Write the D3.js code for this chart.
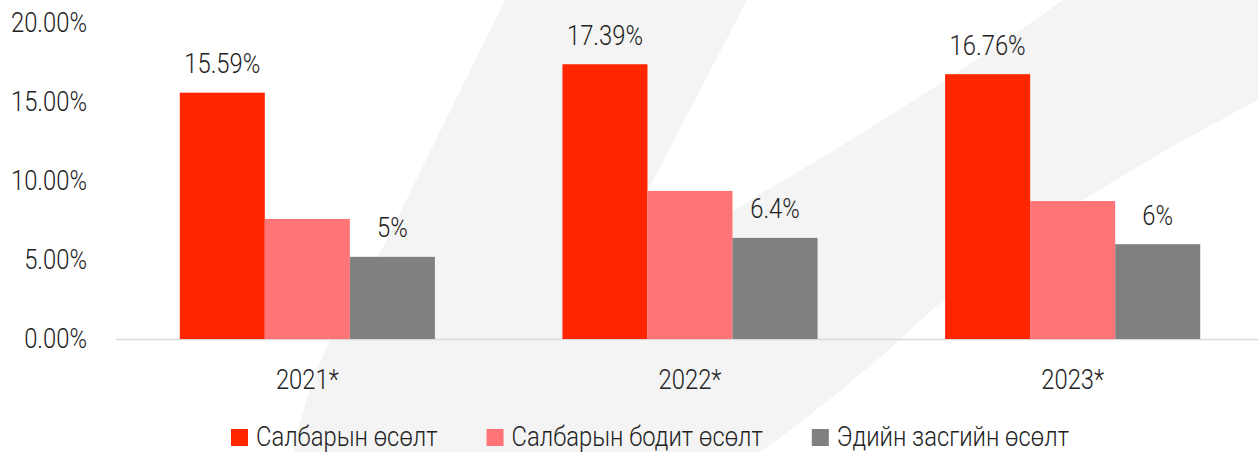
<!DOCTYPE html>
<html>
<head>
<meta charset="utf-8">
<script src="https://cdn.jsdelivr.net/npm/d3@7"></script>
<style>
  body { margin: 0; background: #fff; }
  svg text { font-family: Roboto, "Liberation Sans", sans-serif; font-weight: 300; fill: #222; }
</style>
</head>
<body>
<svg width="1258" height="452"></svg>
<script>
const categories = ['2021*', '2022*', '2023*'];
const seriesNames = ['Салбарын өсөлт', 'Салбарын бодит өсөлт', 'Эдийн засгийн өсөлт'];
const seriesColors = ['#ff2600', '#ff7577', '#808080'];
const sectorGrowth = [15.59, 17.39, 16.76];
const sectorRealGrowth = [7.6, 9.37, 8.73];
const economyGrowth = [5.2, 6.4, 6.0];
const sectorLabels = ['15.59%', '17.39%', '16.76%'];
const economyLabels = ['5%', '6.4%', '6%'];
const yTicks = [0, 5, 10, 15, 20];

const values = [sectorGrowth, sectorRealGrowth, economyGrowth];
const labels = [sectorLabels, null, economyLabels];

const svg = d3.select('svg');
const sx = 0.85; // narrow the glyphs, source uses a condensed face
const fontSize = 28;

// faint watermark behind the chart
const wm = d3.path();
wm.moveTo(505, 0);
wm.lineTo(747, 0);
wm.lineTo(648, 190);
wm.lineTo(592, 298);
wm.lineTo(767, 190);
wm.quadraticCurveTo(930, 95, 1063, 0);
wm.lineTo(1258, 0);
wm.lineTo(1258, 100);
wm.quadraticCurveTo(1010, 230, 900, 340);
wm.quadraticCurveTo(820, 410, 760, 452);
wm.lineTo(293, 452);
wm.quadraticCurveTo(315, 345, 383, 247);
wm.closePath();
svg.append('path')
    .attr('d', wm.toString())
    .attr('fill', '#f4f4f4');

const x0 = d3.scaleBand()
    .domain(categories)
    .range([116, 1264]);

const x1 = d3.scaleBand()
    .domain(d3.range(seriesNames.length))
    .range([0, x0.bandwidth()])
    .paddingOuter(0.75);

const y = d3.scaleLinear()
    .domain([0, 20])
    .range([339, 23]);

function label(g, x, yy, txt, anchor) {
  return g.append('text')
      .attr('transform', `translate(${x},${yy}) scale(${sx},1)`)
      .attr('text-anchor', anchor || 'middle')
      .style('font-size', fontSize + 'px')
      .text(txt);
}

// y axis labels
const yAxis = svg.append('g')
    .attr('transform', `translate(87,0) scale(${sx},1)`)
    .call(d3.axisLeft(y)
      .tickValues(yTicks)
      .tickSize(0)
      .tickPadding(0)
      .tickFormat(d => d3.format('.2f')(d) + '%'));
yAxis.select('.domain').remove();
yAxis.selectAll('text')
    .style('font-size', fontSize + 'px')
    .attr('fill', null);

// baseline
svg.append('line')
    .attr('x1', 116).attr('x2', 1258)
    .attr('y1', y(0) + 0.5).attr('y2', y(0) + 0.5)
    .attr('stroke', '#d9d9d9')
    .attr('stroke-width', 1.5);

// bars
const groups = svg.append('g').selectAll('g')
    .data(categories)
    .join('g')
      .attr('transform', d => `translate(${x0(d)},0)`);

groups.each(function(cat, ci) {
  const g = d3.select(this);
  values.forEach((vals, si) => {
    g.append('rect')
        .attr('x', x1(si))
        .attr('y', y(vals[ci]))
        .attr('width', x1.bandwidth())
        .attr('height', y(0) - y(vals[ci]))
        .attr('fill', seriesColors[si]);
    if (labels[si]) {
      label(g, x1(si) + x1.bandwidth() / 2, y(vals[ci]) - 19.5, labels[si][ci]);
    }
  });
});

// category labels
categories.forEach(c => {
  label(svg, x0(c) + x0.bandwidth() / 2, 389, c);
});

// legend
let lx = 231;
seriesNames.forEach((name, i) => {
  svg.append('rect')
      .attr('x', lx).attr('y', 429)
      .attr('width', 17).attr('height', 17)
      .attr('fill', seriesColors[i]);
  const t = label(svg, lx + 25, 446, name, 'start');
  lx += 25 + t.node().getComputedTextLength() * sx + 49;
});
</script>
</body>
</html>
